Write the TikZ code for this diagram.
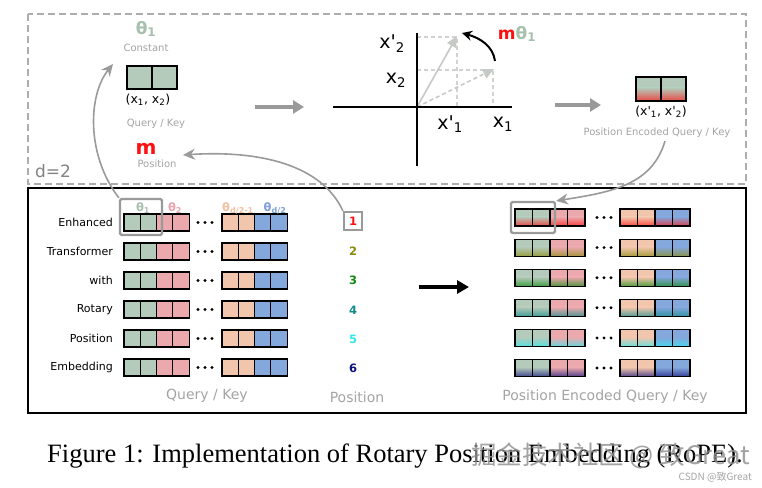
\documentclass[tikz,border=0pt]{standalone}
\usepackage{fontspec}
\setmainfont{DejaVu Sans}
\newfontfamily\capfont{Liberation Serif}
\newfontfamily\cjkfont{Noto Sans CJK SC}
\usetikzlibrary{arrows.meta}
\definecolor{cg}{HTML}{B4CABA}
\definecolor{cp}{HTML}{EBA9AD}
\definecolor{co}{HTML}{F2C6AC}
\definecolor{cb}{HTML}{84A7DC}
\definecolor{lbl}{HTML}{A4A4A4}
\definecolor{hl}{HTML}{9A9A9A}
\definecolor{tg}{HTML}{A8C0AE}
\definecolor{tp}{HTML}{E9A3AA}
\definecolor{to}{HTML}{F0C0A2}
\definecolor{tb}{HTML}{7FA0D8}
\definecolor{vec}{HTML}{C6CAC6}
\definecolor{pa}{HTML}{FF1010}
\definecolor{pb}{HTML}{8A8A10}
\definecolor{pc}{HTML}{108A10}
\definecolor{pd}{HTML}{108A8A}
\definecolor{pe}{HTML}{30E8F0}
\definecolor{pf}{HTML}{10107A}
\newcommand\fs[1]{\fontsize{#1}{#1}\selectfont}
\newcommand\twocells[5]{%
  \fill[#5] (#1,#2) rectangle ++(2*#3,#4);
  \draw[cellline] (#1,#2) rectangle ++(#3,#4);
  \draw[cellline] (#1+#3,#2) rectangle ++(#3,#4);}
\newcommand\twocellsS[6]{%
  \fill[#5] (#1,#2) rectangle ++(2*#3,#4);
  \shade[top color=#5, bottom color=#6!70!#5] (#1,#2+0.45*#4) rectangle ++(2*#3,0.55*#4);
  \draw[cellline] (#1,#2) rectangle ++(#3,#4);
  \draw[cellline] (#1+#3,#2) rectangle ++(#3,#4);}
\newcommand\threedots[2]{%
  \foreach \d in {-7,0,7} \fill (#1+\d,#2) circle (1.6);}
\tikzset{
  cellline/.style={draw=black, line width=1.1},
  graytext/.style={text=lbl, inner sep=0},
  hlbox/.style={draw=hl, line width=2.2, rounded corners=1.5, inner sep=0},
  garrow/.style={draw=hl, line width=3.6, -{Triangle[length=11,width=13]}},
  garc/.style={draw=hl, line width=1.6, -{Stealth[length=12,width=11]}},
  axis/.style={draw=black, line width=2.6},
  proj/.style={draw=vec!85!white, line width=1.3, dash pattern=on 4 off 3},
  rowlabel/.style={anchor=east, inner sep=0, font=\fs{11}},
  posnum/.style={inner sep=0, font=\bfseries\fs{11.5}},
  thl/.style={inner sep=0, font=\bfseries\fs{11.5}},
  xlab/.style={inner sep=0, font=\fs{19}},
}
\begin{document}
\begin{tikzpicture}[x=1pt,y=-1pt]
\fill[white] (0,0) rectangle (762,487);
\useasboundingbox (0,0) rectangle (762,487);
% frames
\draw[draw=lbl!90!white, line width=2.3, dash pattern=on 7 off 4] (28,14) rectangle (746,184);
\draw[black, line width=2.3] (28,188) rectangle (746,413);
\node[text=lbl!80!black, inner sep=0, font=\fs{17}] (d2) at (53,171) {d=2};
% ---------- top left ----------
\node[text=tg, inner sep=0, font=\bfseries\fs{17}] (th1) at (146,29) {θ\textsubscript{1}};
\node[graytext, font=\fs{10}] (const) at (146,48) {Constant};
\twocells{127}{66}{25}{23}{cg}
\node[inner sep=0] (qkbox) at (152,77.5) {};
\node[inner sep=0, font=\fs{12.5}] (xx) at (148,100) {(x\textsubscript{1}, x\textsubscript{2})};
\node[graytext, font=\fs{10}] (qk) at (156,124) {Query / Key};
\node[text=pa, inner sep=0, font=\bfseries\fs{20}] (m) at (146,149) {m};
\node[graytext, font=\fs{10}] (posl) at (157,164) {Position};
\coordinate (thtip) at (113,64);
\coordinate (mtip) at (183,155);
% middle arrow
\coordinate (a1s) at (255,107); \coordinate (a1e) at (304,107);
\draw[garrow] (a1s) -- (a1e);
% ---------- rotation graph ----------
\coordinate (O) at (417,107);
\coordinate (hl) at (333,107); \coordinate (hr) at (512,107);
\coordinate (vt) at (417,33); \coordinate (vb) at (417,166);
\coordinate (p1) at (457,36); \coordinate (p2) at (494,69);
\draw[proj] (417,37) -- (457,37) -- (457,107);
\draw[proj] (417,70) -- (493,70) -- (493,107);
\draw[draw=vec, line width=1.6, -{Triangle[length=11,width=10]}] (O) -- (p1);
\draw[draw=vec, line width=1.6, dash pattern=on 4 off 3, -{Triangle[length=11,width=10]}] (O) -- (p2);
\draw[axis] (hl) -- (hr);
\draw[axis] (vt) -- (vb);
\node[xlab] (lx2p) at (392,44) {x\textquotesingle\textsubscript{2}};
\node[xlab] (lx2) at (396,80) {x\textsubscript{2}};
\node[xlab] (lx1p) at (450,124) {x\textquotesingle\textsubscript{1}};
\node[xlab] (lx1) at (503,124) {x\textsubscript{1}};
\coordinate (rs) at (495,61); \coordinate (re) at (462,33);
\draw[black, line width=2, -{Stealth[length=10,width=10]}] (rs) .. controls (493,46) and (480,38) .. (re);
\node[inner sep=0, font=\bfseries\fs{17}] (mth) at (517,34) {\textcolor{pa}{m}\textcolor{tg}{θ\textsubscript{1}}};
% right arrow
\coordinate (a2s) at (555,105); \coordinate (a2e) at (601,105);
\draw[garrow] (a2s) -- (a2e);
% ---------- top right ----------
\twocellsS{636}{77}{25}{24}{cg}{pa}
\node[inner sep=0, font=\fs{12.5}] (xxp) at (661,112) {(x\textquotesingle\textsubscript{1}, x\textquotesingle\textsubscript{2})};
\node[graytext, font=\fs{10}] (peqk) at (657,133) {Position Encoded Query / Key};
% ---------- bottom left ----------
\foreach \lab [count=\i from 0] in {Enhanced,Transformer,with,Rotary,Position,Embedding} {
  \pgfmathsetmacro\yc{222.5+29*\i}
  \node[rowlabel] (rl\i) at (113,\yc) {\lab};
  \twocells{124}{\yc-8.5}{16.3}{17}{cg}
  \twocells{156.6}{\yc-8.5}{16.3}{17}{cp}
  \threedots{205}{\yc}
  \twocells{222}{\yc-8.5}{16.3}{17}{co}
  \twocells{254.6}{\yc-8.5}{16.3}{17}{cb}
}
\node[thl, text=tg] (t1) at (143,208) {θ\textsubscript{1}};
\node[thl, text=tp] (t2) at (175,208) {θ\textsubscript{2}};
\node[thl, text=to] (t3) at (238,208) {θ\textsubscript{d/2-1}};
\node[thl, text=tb] (t4) at (275,208) {θ\textsubscript{d/2}};
\node[hlbox, minimum width=42, minimum height=36] (hlL) at (141,217) {};
\node[graytext, font=\fs{14}] (qkb) at (207,396) {Query / Key};
% positions
\node[posnum, text=pa, draw=hl, line width=2.2, minimum width=18, minimum height=18] (n1) at (353,221) {1};
\node[posnum, text=pb] (n2) at (353,251) {2};
\node[posnum, text=pc] (n3) at (353,280) {3};
\node[posnum, text=pd] (n4) at (353,310) {4};
\node[posnum, text=pe] (n5) at (353,339) {5};
\node[posnum, text=pf] (n6) at (353,368) {6};
\node[graytext, font=\fs{14}] (posb) at (357,397) {Position};
% black arrow
\coordinate (b1) at (419,287); \coordinate (b2) at (469,287);
\draw[black, line width=3.6, -{Triangle[length=12,width=13]}] (b1) -- (b2);
% ---------- bottom right ----------
\foreach \pc [count=\i from 0] in {pa,pb,pc,pd,pe,pf} {
  \pgfmathsetmacro\yc{217.5+30.1*\i}
  \twocellsS{515}{\yc-8.5}{17.5}{17}{cg}{\pc}
  \twocellsS{550}{\yc-8.5}{17.5}{17}{cp}{\pc}
  \threedots{604}{\yc}
  \twocellsS{620}{\yc-8.5}{17.5}{17}{co}{\pc}
  \twocellsS{655}{\yc-8.5}{17.5}{17}{cb}{\pc}
}
\node[hlbox, minimum width=44, minimum height=31] (hlR) at (533,217.5) {};
\node[graytext, font=\fs{14}] (peqkb) at (605,397) {Position Encoded Query / Key};
% ---------- curved connectors ----------
\draw[garc] (hlL.north west) .. controls (86,155) and (88,95) .. (thtip);
\draw[garc] (n1.north west) .. controls (322,165) and (260,150) .. (mtip);
\draw[garc] (peqk.south) ++(8,3) .. controls (652,185) and (612,192) .. (hlR.north east);
% ---------- caption ----------
\node[anchor=base west, inner sep=0, font=\capfont\fs{26.5}] (cap) at (47,462) {Figure 1: Implementation of Rotary Position Embedding (RoPE).};
\node[anchor=base west, inner sep=0, text=gray!85!white, opacity=0.85, font=\cjkfont\fs{25.5}] (wm) at (471,464) {掘金技术社区 @ 致Great};
\node[anchor=base east, inner sep=0, text=lbl, font=\cjkfont\fs{10}] (wm2) at (752,480) {CSDN @致Great};
\end{tikzpicture}
\end{document}
